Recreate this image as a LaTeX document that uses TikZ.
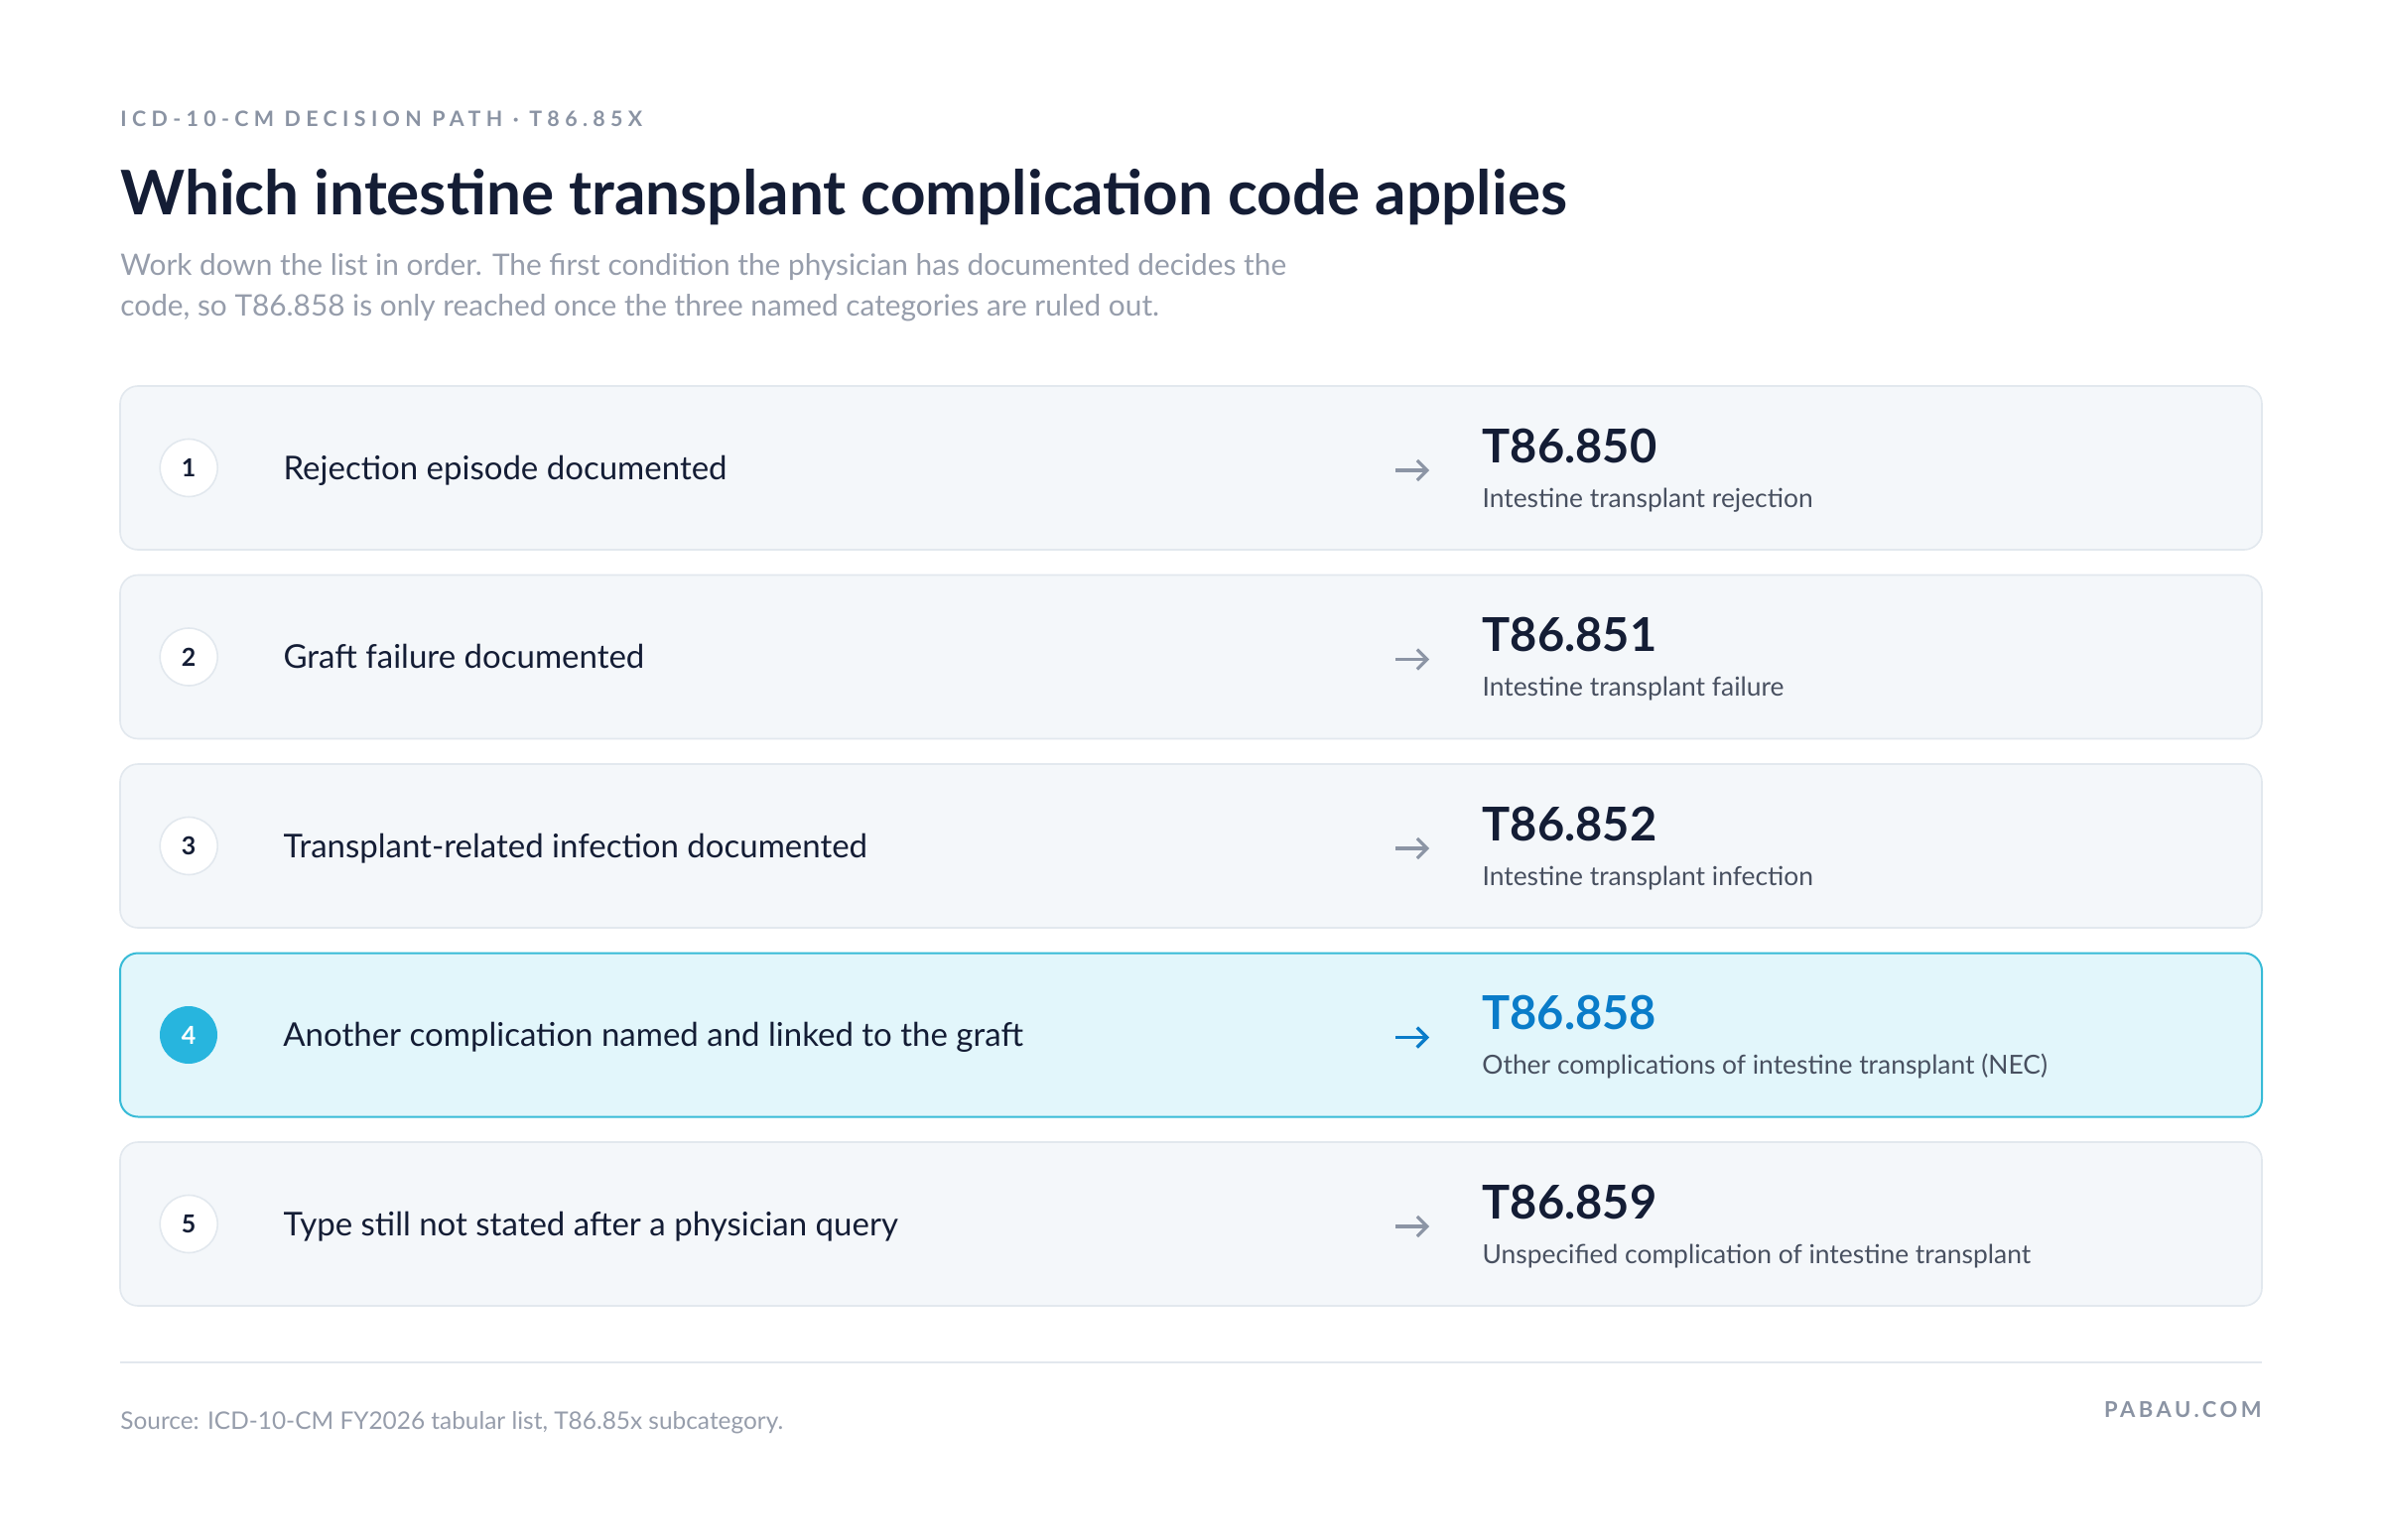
\documentclass[tikz,border=0pt]{standalone}
\usepackage{fontspec}
\setmainfont{Lato}
\usetikzlibrary{arrows.meta,positioning}

\definecolor{navy}{RGB}{20,29,53}
\definecolor{eyegray}{RGB}{138,147,163}
\definecolor{subgray}{RGB}{150,157,171}
\definecolor{descgray}{RGB}{72,80,96}
\definecolor{cardfill}{RGB}{244,247,250}
\definecolor{cardline}{RGB}{226,232,238}
\definecolor{hifill}{RGB}{226,246,251}
\definecolor{hiline}{RGB}{56,187,215}
\definecolor{hidot}{RGB}{39,181,222}
\definecolor{codeblue}{RGB}{10,124,201}
\definecolor{arrowgray}{RGB}{140,149,165}

\tikzset{
	card/.style={draw=cardline, fill=cardfill, line width=0.8pt, rounded corners=9pt, minimum width=1079pt, minimum height=82.5pt, inner sep=0pt},
	hicard/.style={card, draw=hiline, fill=hifill, line width=1pt},
	stepnum/.style={circle, draw=cardline, fill=white, line width=0.8pt, minimum size=29pt, inner sep=0pt, text=navy, font=\fontsize{12.5}{13}\selectfont\bfseries},
	hinum/.style={stepnum, draw=none, fill=hidot, text=white},
	steptext/.style={anchor=base west, inner sep=0pt, text=navy, font=\fontsize{16.5}{18}\selectfont},
	codetext/.style={anchor=base west, inner sep=0pt, text=navy, font=\fontsize{23.5}{25}\selectfont\bfseries},
	hicode/.style={codetext, text=codeblue},
	desctext/.style={anchor=base west, inner sep=0pt, text=descgray, font=\fontsize{13.2}{15}\selectfont},
	arrowline/.style={draw=arrowgray, line width=1.6pt, -{Straight Barb[length=5pt, width=10pt, line width=1.6pt]}},
	hiarrow/.style={arrowline, draw=codeblue}
}

\begin{document}
\begin{tikzpicture}[x=0.5pt, y=-0.5pt]
	\useasboundingbox[fill=white] (0,0) rectangle (2400,1552);

	\node[anchor=base west, inner sep=0pt, text=eyegray, font=\fontsize{10.7}{12}\selectfont\bfseries\addfontfeature{LetterSpace=25}] (eyebrow) at (121,127) {ICD-10-CM DECISION PATH · T86.85X};
	\node[anchor=base west, inner sep=0pt, text=navy, font=\fontsize{31}{36}\selectfont\bfseries] (title) at (121,216) {Which intestine transplant complication code applies};
	\node[anchor=base west, inner sep=0pt, text=subgray, font=\fontsize{14.9}{20}\selectfont] (sub1) at (121,278) {Work down the list in order. The first condition the physician has documented decides the};
	\node[anchor=base west, inner sep=0pt, text=subgray, font=\fontsize{14.9}{20}\selectfont] (sub2) at (121,318) {code, so T86.858 is only reached once the three named categories are ruled out.};

	\node[card] (card1) at (1200,471.5) {};
	\node[stepnum] (n1) at ([xshift=35pt]card1.west) {1};
	\node[steptext] (s1) at ([xshift=82.5pt, yshift=-5.75pt]card1.west) {Rejection episode documented};
	\coordinate (a1) at ([xshift=643pt, yshift=-1.25pt]card1.west);
	\coordinate (b1) at ([xshift=660pt, yshift=-1.25pt]card1.west);
	\draw[arrowline] (a1) -- (b1);
	\node[codetext] (c1) at ([xshift=686.5pt, yshift=2.75pt]card1.west) {T86.850};
	\node[desctext] (d1) at ([xshift=686.5pt, yshift=-19.75pt]card1.west) {Intestine transplant rejection};

	\node[card] (card2) at (1200,662) {};
	\node[stepnum] (n2) at ([xshift=35pt]card2.west) {2};
	\node[steptext] (s2) at ([xshift=82.5pt, yshift=-5.75pt]card2.west) {Graft failure documented};
	\coordinate (a2) at ([xshift=643pt, yshift=-1.25pt]card2.west);
	\coordinate (b2) at ([xshift=660pt, yshift=-1.25pt]card2.west);
	\draw[arrowline] (a2) -- (b2);
	\node[codetext] (c2) at ([xshift=686.5pt, yshift=2.75pt]card2.west) {T86.851};
	\node[desctext] (d2) at ([xshift=686.5pt, yshift=-19.75pt]card2.west) {Intestine transplant failure};

	\node[card] (card3) at (1200,852.5) {};
	\node[stepnum] (n3) at ([xshift=35pt]card3.west) {3};
	\node[steptext] (s3) at ([xshift=82.5pt, yshift=-5.75pt]card3.west) {Transplant-related infection documented};
	\coordinate (a3) at ([xshift=643pt, yshift=-1.25pt]card3.west);
	\coordinate (b3) at ([xshift=660pt, yshift=-1.25pt]card3.west);
	\draw[arrowline] (a3) -- (b3);
	\node[codetext] (c3) at ([xshift=686.5pt, yshift=2.75pt]card3.west) {T86.852};
	\node[desctext] (d3) at ([xshift=686.5pt, yshift=-19.75pt]card3.west) {Intestine transplant infection};

	\node[hicard] (card4) at (1200,1043) {};
	\node[hinum] (n4) at ([xshift=35pt]card4.west) {4};
	\node[steptext] (s4) at ([xshift=82.5pt, yshift=-5.75pt]card4.west) {Another complication named and linked to the graft};
	\coordinate (a4) at ([xshift=643pt, yshift=-1.25pt]card4.west);
	\coordinate (b4) at ([xshift=660pt, yshift=-1.25pt]card4.west);
	\draw[hiarrow] (a4) -- (b4);
	\node[hicode] (c4) at ([xshift=686.5pt, yshift=2.75pt]card4.west) {T86.858};
	\node[desctext] (d4) at ([xshift=686.5pt, yshift=-19.75pt]card4.west) {Other complications of intestine transplant (NEC)};

	\node[card] (card5) at (1200,1233.5) {};
	\node[stepnum] (n5) at ([xshift=35pt]card5.west) {5};
	\node[steptext] (s5) at ([xshift=82.5pt, yshift=-5.75pt]card5.west) {Type still not stated after a physician query};
	\coordinate (a5) at ([xshift=643pt, yshift=-1.25pt]card5.west);
	\coordinate (b5) at ([xshift=660pt, yshift=-1.25pt]card5.west);
	\draw[arrowline] (a5) -- (b5);
	\node[codetext] (c5) at ([xshift=686.5pt, yshift=2.75pt]card5.west) {T86.859};
	\node[desctext] (d5) at ([xshift=686.5pt, yshift=-19.75pt]card5.west) {Unspecified complication of intestine transplant};

	\draw[cardline, line width=1pt] (121,1373) -- (2279,1373);
	\node[anchor=base west, inner sep=0pt, text=subgray, font=\fontsize{12.2}{14}\selectfont] (source) at (121,1440) {Source: ICD-10-CM FY2026 tabular list, T86.85x subcategory.};
	\node[anchor=base east, inner sep=0pt, text=eyegray, font=\fontsize{11}{12}\selectfont\bfseries\addfontfeature{LetterSpace=16}] (brand) at (2279,1428) {PABAU.COM};
\end{tikzpicture}
\end{document}
